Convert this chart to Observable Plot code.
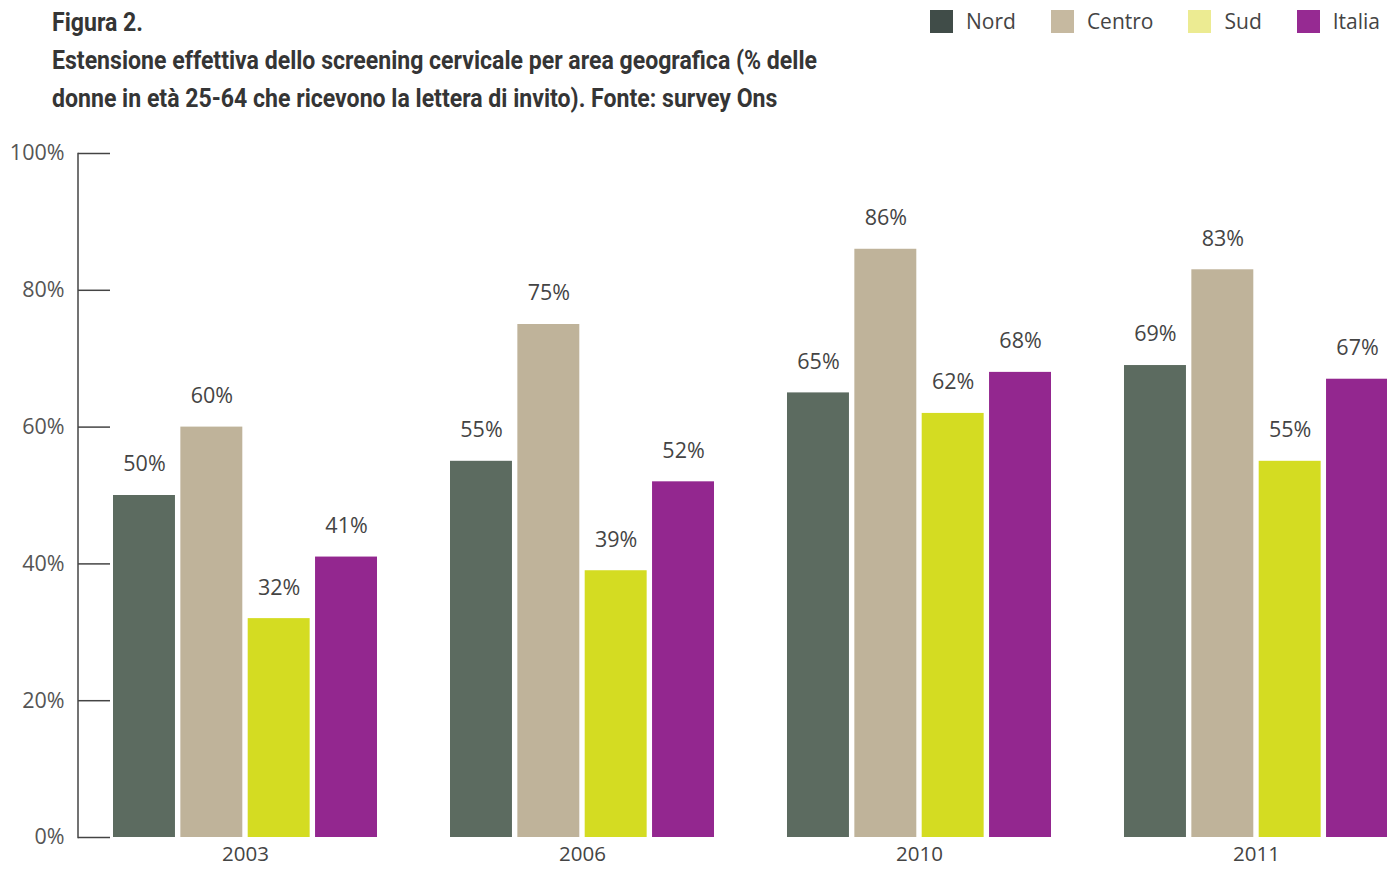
<!DOCTYPE html>
<html>
<head>
<meta charset="utf-8">
<script src="https://cdn.jsdelivr.net/npm/d3@7"></script>
<script src="https://cdn.jsdelivr.net/npm/@observablehq/plot@0.6"></script>
<style>
  html, body { margin: 0; padding: 0; background: #fff; }
  body { width: 1387px; height: 869px; overflow: hidden; position: relative; }
  #head { position: relative; height: 125px; }
  #title { position: absolute; left: 52px; top: 3px; font-family: Roboto, "DejaVu Sans", sans-serif; font-weight: bold; font-size: 26px; line-height: 38px; color: #353535; white-space: nowrap; transform-origin: left top; }
  #title span { display: inline-block; }
  #legend { position: absolute; left: 930px; top: 9px; display: flex; gap: 35px; font-family: "Open Sans", sans-serif; font-size: 21px; color: #444; }
  .item { display: flex; align-items: center; gap: 13px; height: 24px; }
  .sw { width: 23px; height: 23px; display: inline-block; }
  #chart svg { display: block; overflow: visible; }
</style>
</head>
<body>
<div id="head">
  <div id="title"><span>Figura 2.</span><br><span id="l2">Estensione effettiva dello screening cervicale per area geografica (% delle</span><br><span>donne in età 25-64 che ricevono la lettera di invito). Fonte: survey Ons</span></div>
  <div id="legend"></div>
</div>
<div id="chart"></div>
<script>
const years = ["2003", "2006", "2010", "2011"];
const areas = ["Nord", "Centro", "Sud", "Italia"];
const nord   = [50, 55, 65, 69];
const centro = [60, 75, 86, 83];
const sud    = [32, 39, 62, 55];
const italia = [41, 52, 68, 67];
const barColors = ["#5c6b60", "#bfb39a", "#d4dc22", "#93278f"];
const legendColors = ["#404c48", "#c6b9a0", "#eceb92", "#962a92"];
const yTicks = [0, 20, 40, 60, 80, 100];

const series = [nord, centro, sud, italia];
const data = years.flatMap((yr, i) => series.map((s, j) => ({year: yr, area: areas[j], value: s[i]})));

// condense the title to the reference width
const l2 = document.getElementById("l2");
const k = 765 / l2.getBoundingClientRect().width;
document.getElementById("title").style.transform = `scaleX(${k})`;

const legend = document.getElementById("legend");
areas.forEach((a, i) => {
  const it = document.createElement("div");
  it.className = "item";
  it.innerHTML = `<span class="sw" style="background:${legendColors[i]}"></span><span>${a}</span>`;
  legend.appendChild(it);
});

const font = "'Open Sans', sans-serif";
const chart = Plot.plot({
  width: 1387,
  height: 744,
  marginLeft: 113,
  marginRight: -1,
  marginTop: 28,
  marginBottom: 32,
  style: {fontFamily: font, fontSize: "20px", color: "#444", background: "#fff"},
  fx: {domain: years, paddingInner: 0.2166, paddingOuter: 0, round: false, label: null, axis: null},
  x: {domain: areas, paddingInner: 0.08, paddingOuter: 0, round: false, axis: null},
  y: {domain: [0, 100], axis: null},
  color: {domain: areas, range: barColors},
  marks: [
    Plot.barY(data, {fx: "year", x: "area", y: "value", fill: "area"}),
    Plot.text(data, {fx: "year", x: "area", y: "value", text: d => d.value + "%", dy: -31, fill: "#444", fontSize: 21.5}),
    Plot.axisFx({anchor: "bottom", tickSize: 0, tickPadding: 9, label: null, fontSize: 20.5, fill: "#444"}),
    Plot.axisY({ticks: yTicks, tickSize: -32, dx: -35, tickFormat: () => "", label: null, stroke: "#444", strokeWidth: 1.5}),
    Plot.axisY({ticks: yTicks, tickSize: 0, tickPadding: 14, dx: -35, tickFormat: d => d + "%", label: null, fontSize: 21.5, fill: "#555"}),
    Plot.frame({anchor: "left", facetAnchor: "left", dx: -35.5, stroke: "#444", strokeWidth: 1.5})
  ]
});
document.getElementById("chart").appendChild(chart);
</script>
</body>
</html>
